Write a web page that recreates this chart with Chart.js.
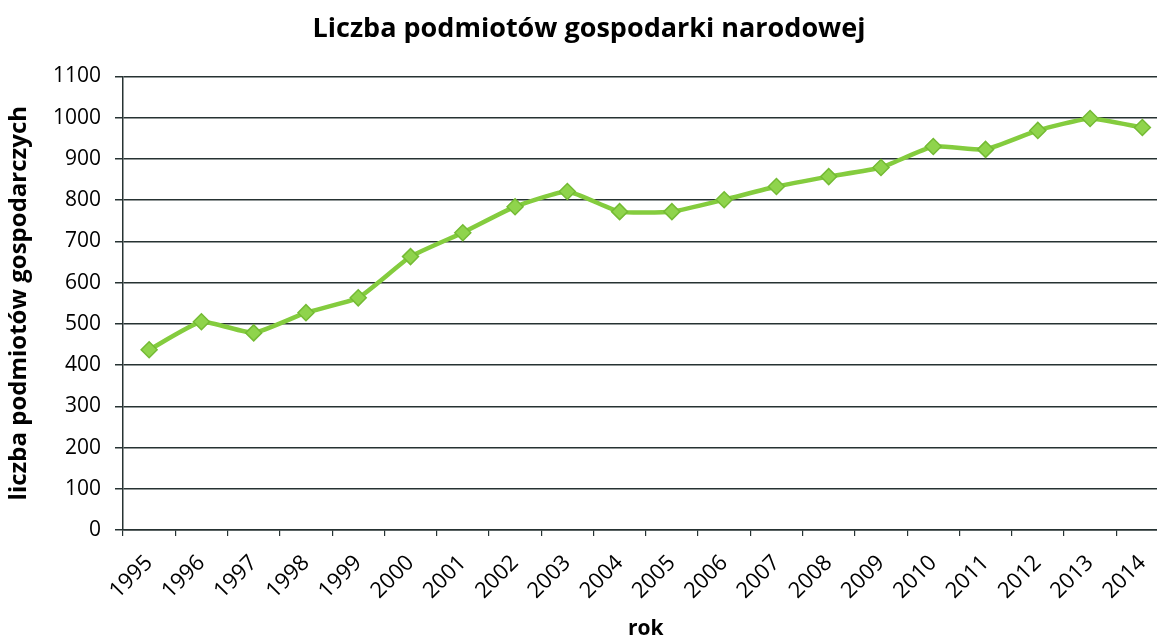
<!DOCTYPE html>
<html lang="pl">
<head>
  <meta charset="UTF-8">
  <title>Liczba podmiotów gospodarki narodowej</title>
  <style>
    html, body { margin: 0; padding: 0; background: #fff; overflow: hidden; }
    /* the original picture is cut on the right, so the canvas is a bit wider than the window */
    #wrap { width: 1178px; height: 642px; }
  </style>
  <script src="https://cdn.jsdelivr.net/npm/chart.js"></script>
</head>
<body>
  <div id="wrap"><canvas id="chart"></canvas></div>
  <script>
    // data
    const years = ['1995', '1996', '1997', '1998', '1999', '2000', '2001', '2002', '2003', '2004',
                   '2005', '2006', '2007', '2008', '2009', '2010', '2011', '2012', '2013', '2014'];
    const podmioty = [437, 505, 478, 527, 563, 663, 721, 784, 821, 772,
                      772, 801, 833, 857, 879, 930, 923, 969, 998, 976];
    const yMin = 0, yMax = 1100, yStep = 100;

    const FONT = "'Open Sans', 'DejaVu Sans', sans-serif";
    const gridColor = '#263232';

    const ctx = document.getElementById('chart').getContext('2d');
    const chart = new Chart(ctx, {
      type: 'line',
      data: {
        labels: years,
        datasets: [{
          label: 'liczba podmiotów',
          data: podmioty,
          borderColor: '#84cc3e',
          borderWidth: 4.5,
          pointStyle: 'rectRot',
          pointRadius: 8,
          pointBackgroundColor: '#8fd44c',
          pointBorderColor: '#74bb34',
          pointBorderWidth: 1.5,
          tension: 0.15,
          fill: false
        }]
      },
      options: {
        responsive: true,
        maintainAspectRatio: false,
        animation: false,
        layout: { padding: 0 },
        plugins: {
          legend: { display: false },
          tooltip: { enabled: false },
          title: {
            display: true,
            text: 'Liczba podmiotów gospodarki narodowej',
            color: '#000',
            font: { family: FONT, size: 27, weight: 'bold' },
            padding: { top: 13, bottom: 31 }
          }
        },
        scales: {
          x: {
            offset: true,
            afterFit: (s) => { s.height = 112; },
            grid: {
              offset: true,
              drawOnChartArea: false,
              drawTicks: true,
              tickLength: 6,
              color: gridColor,
              lineWidth: 1.2
            },
            border: { display: true, color: gridColor, width: 1.5 },
            ticks: {
              minRotation: 45,
              maxRotation: 45,
              padding: 14,
              color: '#000',
              font: { family: FONT, size: 22 }
            },
            title: {
              display: true,
              text: 'rok',
              color: '#000',
              font: { family: FONT, size: 21, weight: 'bold' },
              padding: { top: 0, bottom: 0 }
            }
          },
          y: {
            min: yMin,
            max: yMax,
            afterFit: (s) => { s.width = 123; },
            grid: {
              color: gridColor,
              lineWidth: 1.5,
              drawTicks: true,
              tickLength: 8
            },
            border: { display: true, color: gridColor, width: 1.5 },
            ticks: {
              stepSize: yStep,
              padding: 14,
              color: '#000',
              font: { family: FONT, size: 21 },
              callback: (v) => String(v)
            },
            title: {
              display: true,
              text: 'liczba podmiotów gospodarczych',
              color: '#000',
              font: { family: FONT, size: 24, weight: 'bold' },
              padding: { top: 5, bottom: 0 }
            }
          }
        }
      }
    });
  </script>
</body>
</html>
